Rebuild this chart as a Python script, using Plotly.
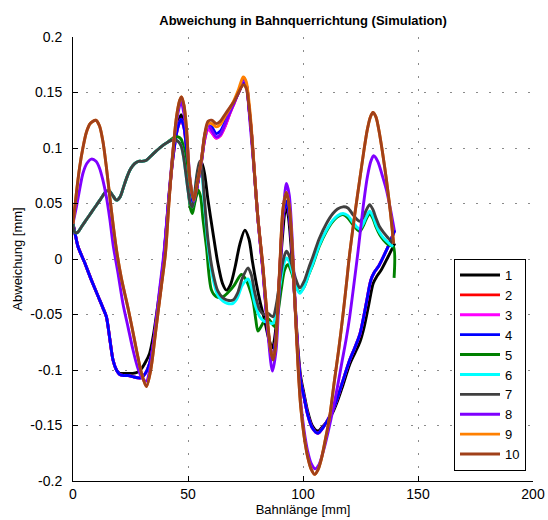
import plotly.graph_objects as go

# ---------------- data ----------------
# start segment of the "down" family (series 1-4)
A_X = [0, 1, 2.2, 5, 8, 11, 13, 14.5, 16, 17.4, 18.9, 20.3, 22, 24, 26, 28, 29.7, 31.5, 33.3, 35, 36.5, 38.4, 39.5]
A_BLUE = [0.032, 0.022, 0.011, -0.003, -0.019, -0.034, -0.044, -0.052, -0.072, -0.091, -0.100, -0.104, -0.105,
          -0.105, -0.106, -0.107, -0.107, -0.103, -0.094, -0.076, -0.052, -0.022, 0.000]
A_BLACK = [0.032, 0.022, 0.011, -0.003, -0.019, -0.034, -0.044, -0.052, -0.072, -0.091, -0.100, -0.103, -0.103,
           -0.103, -0.103, -0.102, -0.099, -0.093, -0.085, -0.068, -0.047, -0.018, 0.002]
A2_X = [41.5, 43.5, 45.5, 47, 48.3, 49.5, 50.8, 52.3]
A2_BLUE = [0.050, 0.092, 0.118, 0.126, 0.118, 0.095, 0.065, 0.049]
A2_BLACK = [0.052, 0.094, 0.121, 0.130, 0.121, 0.098, 0.068, 0.047]

# middle segment of the "high" family (series 2-4)
H_X = [54, 55.8, 57.3, 58.7, 60.3, 62.3, 64, 66, 68, 70, 72, 74, 75.2, 76.5, 77.5, 79, 80.4, 82.6, 84.8, 86.5,
       88, 89.9, 91.3, 92.8]
H_BLUE = [0.066, 0.087, 0.110, 0.120, 0.119, 0.113, 0.115, 0.123, 0.132, 0.141, 0.150, 0.158, 0.158, 0.136,
          0.116, 0.074, 0.036, -0.010, -0.064, -0.090, -0.075, -0.010, 0.038, 0.052]
H_MAGENTA = [0.066, 0.087, 0.108, 0.117, 0.114, 0.109, 0.111, 0.119, 0.130, 0.140, 0.150, 0.158, 0.158, 0.136,
             0.116, 0.074, 0.036, -0.010, -0.064, -0.090, -0.075, -0.010, 0.038, 0.052]

# end segment of series 2-4
BLE_X = [94, 95.2, 96.5, 97.8, 99, 100.5, 102, 104, 106.5, 109, 111, 113, 115, 117, 120.3, 122.5, 124.7, 126,
         127.5, 129.5, 131, 133, 136.3, 138, 139.9]
BLE_Y = [0.040, 0.010, -0.040, -0.085, -0.110, -0.125, -0.140, -0.152, -0.157, -0.151, -0.144, -0.136, -0.125,
         -0.112, -0.091, -0.080, -0.068, -0.056, -0.040, -0.019, -0.012, -0.006, 0.008, 0.016, 0.026]

# series 1 (black) middle and end
BM_X = [53.5, 54.8, 56, 57.2, 58.7, 60.9, 63, 65, 66.7, 68.5, 70.5, 72.5, 74.7, 76.5, 78, 79.7, 81.5, 83.3, 85,
        86.7, 88, 89.5, 91, 92.5]
BM_Y = [0.058, 0.076, 0.087, 0.077, 0.053, 0.023, -0.004, -0.022, -0.028, -0.023, -0.007, 0.013, 0.026, 0.018,
        -0.002, -0.022, -0.040, -0.055, -0.071, -0.080, -0.066, -0.025, 0.018, 0.046]
BE_X = [93.5, 95, 96.5, 97.8, 99, 100.5, 102, 104, 106.4, 109, 111, 113, 115, 117, 120.3, 122.5, 124.7, 126.5,
        128.5, 130.5, 132, 134, 137, 139.9]
BE_Y = [0.040, 0.006, -0.038, -0.080, -0.106, -0.122, -0.137, -0.150, -0.155, -0.150, -0.145, -0.138, -0.128,
        -0.116, -0.095, -0.085, -0.075, -0.062, -0.042, -0.022, -0.016, -0.010, 0.002, 0.014]

# "hump" family start (series 5-7)
G_X = [0, 0.8, 2, 4, 6, 8, 10, 12, 14, 15.5, 17, 18.9, 20.5, 22, 23.5, 25, 26.8, 28.5, 30, 31.9, 34, 36, 37.7,
       39.5, 41, 42.8, 44.5, 45.7, 47, 48, 49, 50, 51, 51.9]
G_GRAY = [0.032, 0.024, 0.024, 0.030, 0.036, 0.042, 0.048, 0.054, 0.060, 0.062, 0.058, 0.053, 0.056, 0.065,
          0.074, 0.081, 0.086, 0.088, 0.088, 0.089, 0.093, 0.097, 0.100, 0.103, 0.105, 0.107, 0.107, 0.106,
          0.102, 0.093, 0.078, 0.062, 0.050, 0.047]
G_GREEN = [0.032, 0.024, 0.024, 0.030, 0.036, 0.042, 0.048, 0.054, 0.060, 0.062, 0.058, 0.053, 0.056, 0.065,
           0.074, 0.081, 0.086, 0.088, 0.088, 0.089, 0.093, 0.097, 0.100, 0.103, 0.105, 0.108, 0.110, 0.110,
           0.108, 0.101, 0.086, 0.066, 0.046, 0.041]

# series 7 (dark grey) and 6 (cyan) middle + end
DGM_X = [52.8, 54, 55.1, 56, 57, 58.7, 60.9, 63, 65.2, 67, 69.6, 71.5, 73.5, 76.1, 77.5, 79, 81.2, 83, 84.8, 86,
         87, 88.5, 90, 91.5, 92.8]
DGM_GRAY = [0.058, 0.078, 0.088, 0.082, 0.058, 0.017, -0.013, -0.029, -0.035, -0.037, -0.037, -0.031, -0.018,
            -0.008, -0.014, -0.030, -0.046, -0.050, -0.049, -0.051, -0.052, -0.040, -0.018, 0.000, 0.007]
DGM_CYAN = [0.056, 0.076, 0.085, 0.078, 0.052, 0.012, -0.018, -0.033, -0.038, -0.040, -0.040, -0.035, -0.024,
            -0.018, -0.025, -0.040, -0.052, -0.056, -0.057, -0.058, -0.058, -0.046, -0.024, -0.006, 0.001]
DGE_X = [94, 95.5, 97, 98.6, 100.5, 102.5, 104.3, 107, 110.2, 113, 115, 117.4, 119.5, 121.7, 123.3, 124.7, 126,
         127.5, 129, 130.5, 131.7, 133.3, 135, 137, 139.1]
DGE_GRAY = [0.003, -0.008, -0.019, -0.026, -0.020, -0.008, 0.002, 0.018, 0.032, 0.041, 0.045, 0.047, 0.046,
            0.040, 0.036, 0.034, 0.037, 0.044, 0.049, 0.044, 0.037, 0.029, 0.024, 0.019, 0.014]
DGE_CYAN = [-0.002, -0.013, -0.025, -0.031, -0.025, -0.014, -0.004, 0.012, 0.026, 0.035, 0.039, 0.041, 0.039,
            0.033, 0.029, 0.027, 0.031, 0.038, 0.043, 0.038, 0.031, 0.024, 0.019, 0.015, 0.011]

# series 5 (green) middle + end
GM_X = [52.5, 53.5, 54.5, 55.5, 56.5, 58, 60.2, 62.3, 65.2, 67.5, 70, 73.2, 75, 76.5, 78.3, 79.5, 80.4, 82, 84,
        85.5, 87.7, 89, 90.5, 92, 93.5]
GM_Y = [0.046, 0.056, 0.062, 0.056, 0.036, 0.011, -0.028, -0.034, -0.034, -0.030, -0.024, -0.014, -0.018, -0.025,
        -0.038, -0.055, -0.065, -0.060, -0.053, -0.055, -0.061, -0.050, -0.028, -0.010, -0.005]
GE_X = [95, 96.8, 98.6, 100.5, 102.5, 104.3, 107, 110.2, 113, 115, 117.4, 119.5, 121.7, 123.3, 124.7, 126, 127.5,
        129, 130.5, 131.7, 133.3, 135, 137, 139.3, 139.6]
GE_Y = [-0.012, -0.024, -0.030, -0.025, -0.014, -0.005, 0.011, 0.025, 0.034, 0.038, 0.040, 0.037, 0.031, 0.027,
        0.025, 0.029, 0.036, 0.041, 0.036, 0.029, 0.022, 0.017, 0.013, 0.011, -0.017]

# series 8 (purple)
P_X = [0, 1.5, 3, 4.3, 6, 8, 10, 11.5, 13, 14.5, 16, 17.5, 19.5, 21.7, 24, 26.1, 28, 30, 31.9, 33.5, 35.5, 37.5,
       39.5, 41.5, 43.5, 45.5, 47]
P_Y = [0.032, 0.047, 0.064, 0.077, 0.086, 0.090, 0.088, 0.082, 0.071, 0.056, 0.036, 0.012, -0.012, -0.040,
       -0.062, -0.082, -0.097, -0.107, -0.110, -0.098, -0.067, -0.030, 0.005, 0.052, 0.098, 0.130, 0.142]
PM_X = [48.3, 49.5, 50.8, 52.5, 54, 55.8, 57.3, 58.7, 60.3, 62.3, 64, 66, 68, 70, 72, 74.5, 75.8, 77, 79, 80.4,
        82.6, 84.8, 86.7, 88.3, 90, 91.5, 92.8]
PM_Y = [0.130, 0.110, 0.074, 0.052, 0.066, 0.089, 0.112, 0.121, 0.116, 0.110, 0.112, 0.121, 0.131, 0.141, 0.151,
        0.163, 0.150, 0.122, 0.074, 0.036, -0.012, -0.068, -0.101, -0.082, -0.012, 0.045, 0.068]
PE_X = [94, 95.2, 96.5, 97.8, 99, 100.5, 102, 103.5, 105.3, 107, 109, 111, 113, 115, 117, 118.7, 120.3, 122, 124,
        126.1, 128, 129.5, 130.7, 132.5, 134.5, 136.3, 138, 139.7]
PE_Y = [0.058, 0.022, -0.035, -0.090, -0.128, -0.155, -0.173, -0.184, -0.189, -0.185, -0.172, -0.155, -0.136,
        -0.115, -0.092, -0.073, -0.052, -0.025, 0.008, 0.046, 0.074, 0.088, 0.093, 0.088, 0.075, 0.062, 0.045, 0.026]

# series 10 (brown) and 9 (orange)
BR_X = [0, 1.5, 2.9, 4.3, 5.8, 7.5, 9.9, 11.5, 13, 14.5, 16, 17.5, 19, 21, 23.9, 25.8, 27.6, 29.8, 31.9, 33.8,
        36.2, 38.4, 40.2, 41.8, 43.5, 45, 46.4, 47.2]
BR_Y = [0.032, 0.060, 0.083, 0.100, 0.114, 0.122, 0.125, 0.120, 0.106, 0.083, 0.056, 0.030, 0.007, -0.017,
        -0.044, -0.063, -0.082, -0.103, -0.115, -0.100, -0.061, -0.025, 0.005, 0.053, 0.098, 0.128, 0.143, 0.146]
BRM_X = [48.3, 49.3, 50.7, 52.5, 54, 55.8, 57.3, 58.7, 60.3, 62.3, 64, 66, 68, 70, 72, 74, 75.3, 76.5, 77.5, 79,
         80.4, 82.6, 84.8, 86, 87, 88, 89.9, 91.3, 92.8]
BRM_BROWN = [0.138, 0.119, 0.074, 0.053, 0.068, 0.089, 0.113, 0.124, 0.125, 0.122, 0.124, 0.130, 0.136, 0.142,
             0.150, 0.157, 0.154, 0.138, 0.117, 0.074, 0.037, -0.007, -0.061, -0.083, -0.091, -0.080, -0.007,
             0.045, 0.060]
BRM_ORANGE = [0.138, 0.119, 0.074, 0.053, 0.068, 0.089, 0.112, 0.122, 0.122, 0.119, 0.121, 0.128, 0.135, 0.143,
              0.153, 0.164, 0.160, 0.142, 0.120, 0.076, 0.037, -0.007, -0.061, -0.083, -0.090, -0.080, -0.007,
              0.045, 0.060]
BRE_X = [94, 95.2, 96.5, 97.8, 99, 100.5, 102, 103.5, 105.1, 106.5, 108, 109.5, 111.6, 113.5, 115.5, 117.4, 118.9,
         120.3, 122.5, 124.7, 126.5, 128, 129.3, 130.4, 131.7, 133, 134.5, 136.3, 138, 139.4]
BRE_Y = [0.048, 0.015, -0.040, -0.095, -0.133, -0.160, -0.178, -0.189, -0.194, -0.190, -0.180, -0.165, -0.142,
         -0.112, -0.082, -0.050, -0.022, 0.005, 0.040, 0.072, 0.098, 0.117, 0.128, 0.132, 0.128, 0.116, 0.097,
         0.071, 0.042, 0.014]

SERIES_NAMES = ["1", "2", "3", "4", "5", "6", "7", "8", "9", "10"]
COLORS = ["#000000", "#ff0000", "#ff00ff", "#0000ff", "#008000", "#00ffff", "#404040", "#7f00ff", "#ff8000",
          "#a0401a"]

series_x = [
    A_X + A2_X + BM_X + BE_X,
    A_X + A2_X + H_X + BLE_X,
    A_X + A2_X + H_X + BLE_X,
    A_X + A2_X + H_X + BLE_X,
    G_X + GM_X + GE_X,
    G_X + DGM_X + DGE_X,
    G_X + DGM_X + DGE_X,
    P_X + PM_X + PE_X,
    BR_X + BRM_X + BRE_X,
    BR_X + BRM_X + BRE_X,
]
series_y = [
    A_BLACK + A2_BLACK + BM_Y + BE_Y,
    A_BLUE + A2_BLUE + H_MAGENTA + BLE_Y,
    A_BLUE + A2_BLUE + H_MAGENTA + BLE_Y,
    A_BLUE + A2_BLUE + H_BLUE + BLE_Y,
    G_GREEN + GM_Y + GE_Y,
    G_GRAY + DGM_CYAN + DGE_CYAN,
    G_GRAY + DGM_GRAY + DGE_GRAY,
    P_Y + PM_Y + PE_Y,
    BR_Y + BRM_ORANGE + BRE_Y,
    BR_Y + BRM_BROWN + BRE_Y,
]

X_TICKS = [0, 50, 100, 150, 200]
Y_TICKS = [-0.2, -0.15, -0.1, -0.05, 0, 0.05, 0.1, 0.15, 0.2]
Y_TICK_TEXT = ["-0.2", "-0.15", "-0.1", "-0.05", "0", "0.05", "0.1", "0.15", "0.2"]

# ---------------- figure ----------------
FONT = "Liberation Sans, Arial, Helvetica, sans-serif"
fig = go.Figure()
for name, xs, ys, col in zip(SERIES_NAMES, series_x, series_y, COLORS):
    fig.add_trace(go.Scatter(x=xs, y=ys, mode="lines", name=name,
                             line=dict(color=col, width=2.9, shape="spline", smoothing=0.8)))

axis_common = dict(showgrid=True, gridcolor="#8a8a8a", gridwidth=1, griddash="2px,11px",
                   zeroline=False, showline=True, linecolor="#000000", linewidth=1,
                   ticks="inside", ticklen=5, tickcolor="#000000", automargin=False,
                   tickfont=dict(family=FONT, size=14, color="#000000"))

fig.update_layout(
    width=548, height=520,
    margin=dict(l=73, r=15, t=37, b=39, autoexpand=False),
    paper_bgcolor="white", plot_bgcolor="white",
    font=dict(family=FONT, color="#000000"),
    title=dict(text="<b>Abweichung in Bahnquerrichtung (Simulation)</b>",
               font=dict(family=FONT, size=13, color="#000000"),
               x=(73 + 533) / 2 / 548, xanchor="center", xref="container",
               y=1 - 20 / 520, yanchor="middle", yref="container"),
    xaxis=dict(range=[0, 200], tickvals=X_TICKS,
               title=dict(text="Bahnlänge [mm]", font=dict(family=FONT, size=13), standoff=4),
               **axis_common),
    yaxis=dict(range=[-0.2, 0.2], tickvals=Y_TICKS, ticktext=Y_TICK_TEXT, ticklabelstandoff=7,
               title=dict(text="Abweichung [mm]", font=dict(family=FONT, size=13), standoff=4),
               **axis_common),
    legend=dict(x=(526 - 73) / 460, xanchor="right", y=(481 - 471) / 444, yanchor="bottom",
                bgcolor="white", bordercolor="#000000", borderwidth=1,
                font=dict(family=FONT, size=13, color="#000000"),
                itemwidth=40, tracegroupgap=0),
    showlegend=True,
)

fig.write_html("out.html", config={"displayModeBar": False},
               post_script="document.body.style.margin='0';")
